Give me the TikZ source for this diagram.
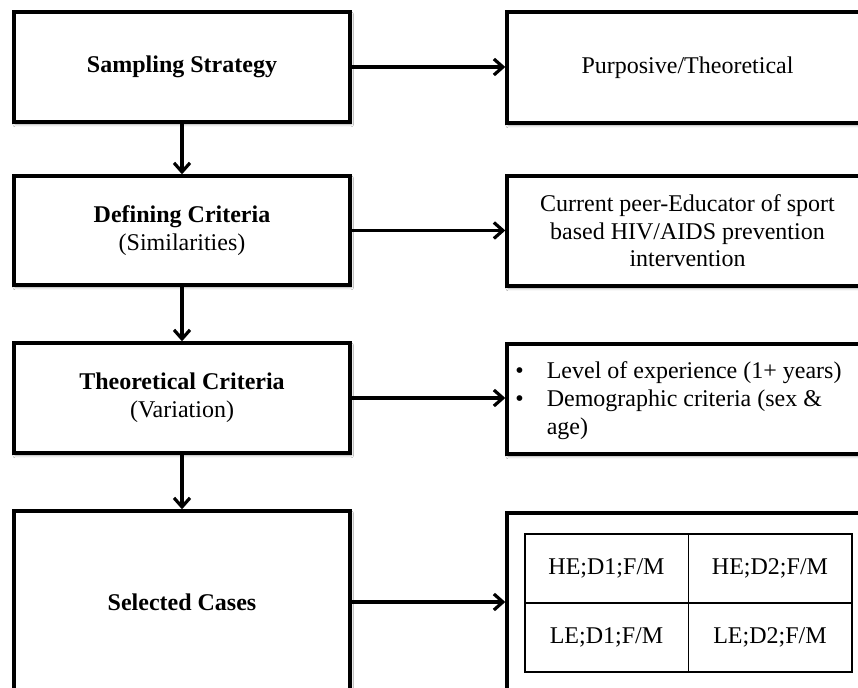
\documentclass[tikz,border=0pt]{standalone}
\usepackage{fontspec}
\setmainfont{Liberation Serif}
\usetikzlibrary{arrows.meta,shadows.blur}
\begin{document}
\begin{tikzpicture}[x=0.5pt,y=-0.5pt,
  every node/.style={font=\fontsize{12}{13.8}\selectfont, text=black},
  shd/.style={blur shadow={shadow xshift=0.6pt, shadow yshift=-1.2pt, shadow blur steps=4, shadow blur radius=1.2pt, shadow opacity=35}},
  lbox/.style={draw, line width=1.7pt, fill=white, shd, minimum width=168pt, align=center, inner sep=0pt},
  rbox/.style={draw, line width=1.7pt, fill=white, shd, minimum width=180.5pt, align=center, inner sep=0pt},
  cell/.style={draw, line width=0.75pt, minimum width=81.75pt, minimum height=34.5pt, inner sep=0pt},
  arr/.style={line width=1.6pt, -{Straight Barb[length=4.5pt,width=8pt,line width=1.6pt]}}
]
\useasboundingbox (0,0) rectangle (858,688);
\clip (0,0) rectangle (858,688);
\fill[white] (0,0) rectangle (858,688);

% left column
\node[lbox, minimum height=55pt] (l1) at (182,67) {\textbf{Sampling Strategy}};
\node[lbox, minimum height=54.5pt] (l2) at (182,230.5) {\textbf{Defining Criteria}\\(Similarities)};
\node[lbox, minimum height=55pt] (l3) at (182,398) {\textbf{Theoretical Criteria}\\(Variation)};
\node[lbox, minimum height=91pt] (l4) at (182,602) {\textbf{Selected Cases}};

% right column
\node[rbox, minimum height=55.5pt] (r1) at (687.5,67.5) {Purposive/Theoretical};
\node[rbox, minimum height=55pt] (r2) at (687.5,231) {Current peer-Educator of sport\\based HIV/AIDS prevention\\intervention};
\node[rbox, minimum height=55pt] (r3) at (687.5,399) {};
\node[anchor=west, inner sep=0pt] (r3t) at (515,401) {\begin{tabular}{@{}l@{\hspace{11.5pt}}l@{}}
\textbullet & Level of experience (1+ years)\\
\textbullet & Demographic criteria (sex \&\\
 & age)
\end{tabular}};
\node[rbox, minimum height=90pt] (r4) at (687.5,603) {};

% table
\node[cell] (c11) at (606.5,568.5) {HE;D1;F/M};
\node[cell] (c12) at (770,568.5) {HE;D2;F/M};
\node[cell] (c21) at (606.5,637.5) {LE;D1;F/M};
\node[cell] (c22) at (770,637.5) {LE;D2;F/M};

% connectors
\draw[arr] (l1.south) -- (l2.north);
\draw[arr] (l2.south) -- (l3.north);
\draw[arr] (l3.south) -- (l4.north);
\draw[arr] (l1.east) -- (l1.east -| r1.west);
\draw[arr] (l2.east) -- (l2.east -| r2.west);
\draw[arr] (l3.east) -- (l3.east -| r3.west);
\draw[arr] (l4.east) -- (l4.east -| r4.west);
\end{tikzpicture}
\end{document}
